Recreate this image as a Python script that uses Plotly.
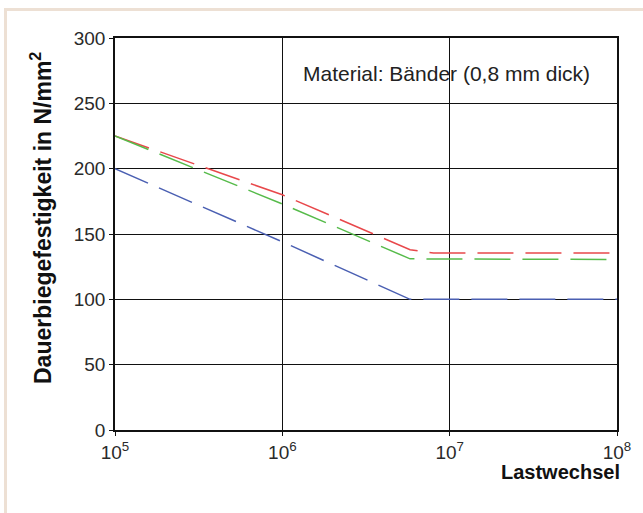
import plotly.graph_objects as go

# Data (Lastwechsel vs. Dauerbiegefestigkeit)
red_x = [1e5, 1e6, 5.8e6, 8e6, 1e8]
red_y = [225, 180, 138, 135.5, 135.5]
green_x = [1e5, 1e6, 5.8e6, 1e8]
green_y = [225, 173, 131, 130.5]
blue_x = [1e5, 1e6, 5.8e6, 1e8]
blue_y = [200, 144, 100, 100]

x_tickvals = [1e5, 1e6, 1e7, 1e8]
x_ticktext = ["10<sup>5</sup>", "10<sup>6</sup>", "10<sup>7</sup>", "10<sup>8</sup>"]
y_tickvals = [0, 50, 100, 150, 200, 250, 300]

FONT = "Liberation Sans, Arial, sans-serif"
DASH = "36px,12px"

fig = go.Figure()
fig.add_trace(go.Scatter(x=red_x, y=red_y, mode="lines",
                         line=dict(color="#e8484b", width=1.5, dash=DASH)))
fig.add_trace(go.Scatter(x=green_x, y=green_y, mode="lines",
                         line=dict(color="#56bb4a", width=1.5, dash=DASH)))
fig.add_trace(go.Scatter(x=blue_x, y=blue_y, mode="lines",
                         line=dict(color="#4a5fb2", width=1.5, dash=DASH)))

L, R, T, B = 115, 26, 38, 83
W, H = 643, 513
pw, ph = W - L - R, H - T - B

def px(x):
    return (x - L) / pw

def py(y):
    return (H - B - y) / ph

fig.update_layout(
    width=W, height=H,
    margin=dict(l=L, r=R, t=T, b=B),
    paper_bgcolor="white", plot_bgcolor="white",
    showlegend=False,
    font=dict(family=FONT, color="#222222"),
    xaxis=dict(type="log", range=[5, 8], tickvals=x_tickvals, ticktext=x_ticktext,
               showgrid=True, gridcolor="#111111", gridwidth=1,
               showline=True, linecolor="#111111", linewidth=1.5, mirror=True,
               ticks="outside", ticklen=4, tickcolor="#111111",
               tickfont=dict(size=19, family=FONT, color="#2a2a2a"), zeroline=False),
    yaxis=dict(range=[0, 300], tickvals=y_tickvals,
               showgrid=True, gridcolor="#111111", gridwidth=1,
               showline=True, linecolor="#111111", linewidth=1.5, mirror=True,
               ticks="outside", ticklen=4, tickcolor="#111111",
               tickfont=dict(size=19, family=FONT, color="#2a2a2a"), zeroline=False),
    annotations=[
        dict(text="Material: Bänder (0,8 mm dick)", xref="paper", yref="paper",
             x=px(446), y=py(73), showarrow=False, xanchor="center", yanchor="middle",
             font=dict(size=21, family=FONT, color="#222222")),
        dict(text="<b>Lastwechsel</b>", xref="paper", yref="paper",
             x=px(622), y=py(472), showarrow=False, xanchor="right", yanchor="middle",
             font=dict(size=20, family=FONT, color="#111111")),
        dict(text="<b>Dauerbiegefestigkeit in N/mm<sup>2</sup></b>", xref="paper", yref="paper",
             x=px(41), y=py(218), showarrow=False, xanchor="center", yanchor="middle",
             textangle=-90, font=dict(size=23, family=FONT, color="#111111")),
    ],
    shapes=[
        dict(type="line", xref="paper", yref="paper", x0=px(4), x1=px(650),
             y0=py(9.5), y1=py(9.5), line=dict(color="#ede0d4", width=3)),
        dict(type="line", xref="paper", yref="paper", x0=px(5.5), x1=px(5.5),
             y0=py(8), y1=py(520), line=dict(color="#ede0d4", width=3)),
    ],
)

fig.write_html("out.html", config={"displayModeBar": False},
               post_script="document.body.style.margin='0';document.body.style.overflow='hidden';")
